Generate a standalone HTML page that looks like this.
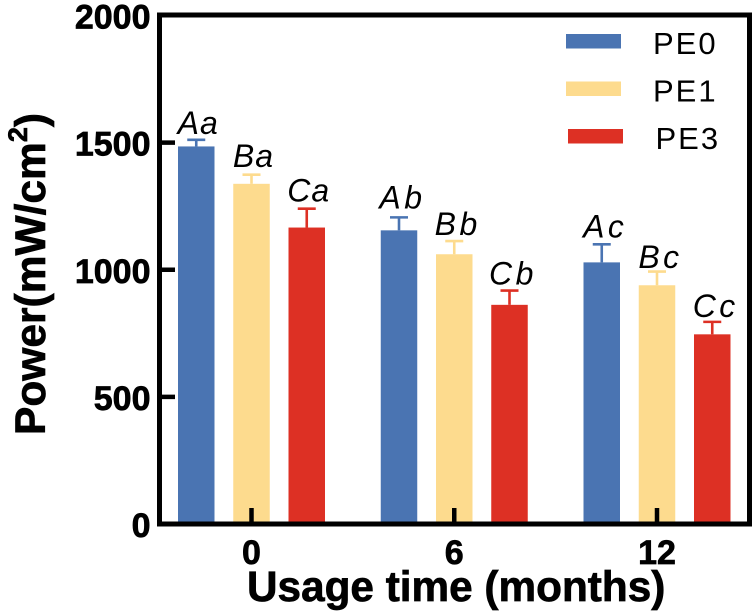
<!DOCTYPE html>
<html>
<head>
<meta charset="utf-8">
<style>
html,body{margin:0;padding:0;background:#fff;}
svg{display:block;font-family:"Liberation Sans",Arial,sans-serif;filter:blur(0.35px);}
.heavy{stroke:#000;stroke-width:0.7px;}
</style>
</head>
<body>
<svg id="chart" width="755" height="616" viewBox="0 0 755 616" xmlns="http://www.w3.org/2000/svg">
  <rect x="0" y="0" width="755" height="616" fill="#fff"/>
  <g id="bars"></g>
  <rect x="159.5" y="15" width="590" height="509" fill="none" stroke="#000" stroke-width="5"/>
  <g id="axes"></g>
  <text class="heavy" transform="translate(45,435) rotate(-90)" font-size="42.5" font-weight="700" fill="#000">Power(mW/cm<tspan font-size="27" dy="-18">2</tspan><tspan dy="18">)</tspan></text>
  <text class="heavy" x="247" y="601" font-size="42.3" font-weight="700" fill="#000">Usage time (months)</text>
  <g id="legend">
    <rect x="566" y="34" width="55" height="14.5" fill="#4a74b2"/>
    <text x="653" y="54" font-size="31" letter-spacing="2" fill="#000">PE0</text>
    <rect x="566" y="81.5" width="55" height="14.5" fill="#fddb8e"/>
    <text x="653" y="101.5" font-size="31" letter-spacing="2" fill="#000">PE1</text>
    <rect x="568" y="129" width="55" height="14.5" fill="#dd3024"/>
    <text x="655.5" y="149" font-size="31" letter-spacing="2" fill="#000">PE3</text>
  </g>
</svg>
<script>
const categories = ['0', '6', '12'];
const seriesNames = ['PE0', 'PE1', 'PE3'];
const pe0Values = [1485, 1155, 1029];
const pe1Values = [1338, 1061, 939];
const pe3Values = [1166, 862, 746];
const pe0Errors = [26, 51, 71];
const pe1Errors = [36, 52, 54];
const pe3Errors = [74, 56, 49];
const pe0Letters = ['Aa', 'Ab', 'Ac'];
const pe1Letters = ['Ba', 'Bb', 'Bc'];
const pe3Letters = ['Ca', 'Cb', 'Cc'];
const yTicks = [0, 500, 1000, 1500, 2000];

const seriesValues = [pe0Values, pe1Values, pe3Values];
const seriesErrors = [pe0Errors, pe1Errors, pe3Errors];
const seriesLetters = [pe0Letters, pe1Letters, pe3Letters];
const seriesColors = ['#4a74b2', '#fddb8e', '#dd3024'];

const NS = 'http://www.w3.org/2000/svg';
const barsGroup = document.getElementById('bars');
const axesGroup = document.getElementById('axes');

function yScale(v) { return 524 - v * (508.5 / 2000); }
function groupCenter(i) { return 251.5 + i * 202.75; }
function barCenter(i, s) { return groupCenter(i) + (s - 1) * 55.25; }
function labelShift(i, s) {
  const shifts = [[0, -3, -1], [-1.5, 0, 2.5], [-1, 0, 1]];
  return shifts[s][i];
}

function make(tag, attrs, parent) {
  const el = document.createElementNS(NS, tag);
  Object.keys(attrs).forEach(function (k) { el.setAttribute(k, attrs[k]); });
  parent.appendChild(el);
  return el;
}

const barWidth = 36.5;
const capWidth = 18;

categories.forEach(function (cat, i) {
  seriesNames.forEach(function (name, s) {
    const value = seriesValues[s][i];
    const top = yScale(value);
    const errTop = yScale(value + seriesErrors[s][i]);
    const cx = barCenter(i, s);
    const color = seriesColors[s];
    const slug = name.toLowerCase() + '-' + cat;

    const bar = make('rect', { x: cx - barWidth / 2, y: top, width: barWidth, height: yScale(0) - top, fill: color }, barsGroup);
    
    

    const stem = make('line', { x1: cx, x2: cx, y1: top, y2: errTop, stroke: color, 'stroke-width': 2.6 }, barsGroup);
    
    

    const cap = make('line', { x1: cx - capWidth / 2, x2: cx + capWidth / 2, y1: errTop, y2: errTop, stroke: color, 'stroke-width': 2.6 }, barsGroup);
    
    

    const label = make('text', { x: cx + (i === 0 ? 2 : 3.5), y: errTop - 6 + labelShift(i, s), 'text-anchor': 'middle', 'font-size': 32, 'font-style': 'italic', 'letter-spacing': i === 0 ? 1 : 3.5, fill: '#000' }, barsGroup);
    label.textContent = seriesLetters[s][i];
    
    
  });

  const xTick = make('line', { x1: groupCenter(i), x2: groupCenter(i), y1: 508, y2: 524, stroke: '#000', 'stroke-width': 4.5 }, axesGroup);
  
  

  const xLabel = make('text', { x: groupCenter(i), y: 564, 'text-anchor': 'middle', 'font-size': 34, 'font-weight': 700, fill: '#000', stroke: '#000', 'stroke-width': 0.7 }, axesGroup);
  xLabel.textContent = cat;
  
  
});

yTicks.forEach(function (t) {
  const y = yScale(t);
  if (t !== 0 && t !== 2000) {
    const yTick = make('line', { x1: 159.5, x2: 175, y1: y, y2: y, stroke: '#000', 'stroke-width': 4.5 }, axesGroup);
    
    
  }
  const yLabel = make('text', { x: 150.5, y: y + 13, 'text-anchor': 'end', 'font-size': 34, 'font-weight': 700, fill: '#000', stroke: '#000', 'stroke-width': 0.7 }, axesGroup);
  yLabel.textContent = t;
  
  
});
</script>
</body>
</html>
